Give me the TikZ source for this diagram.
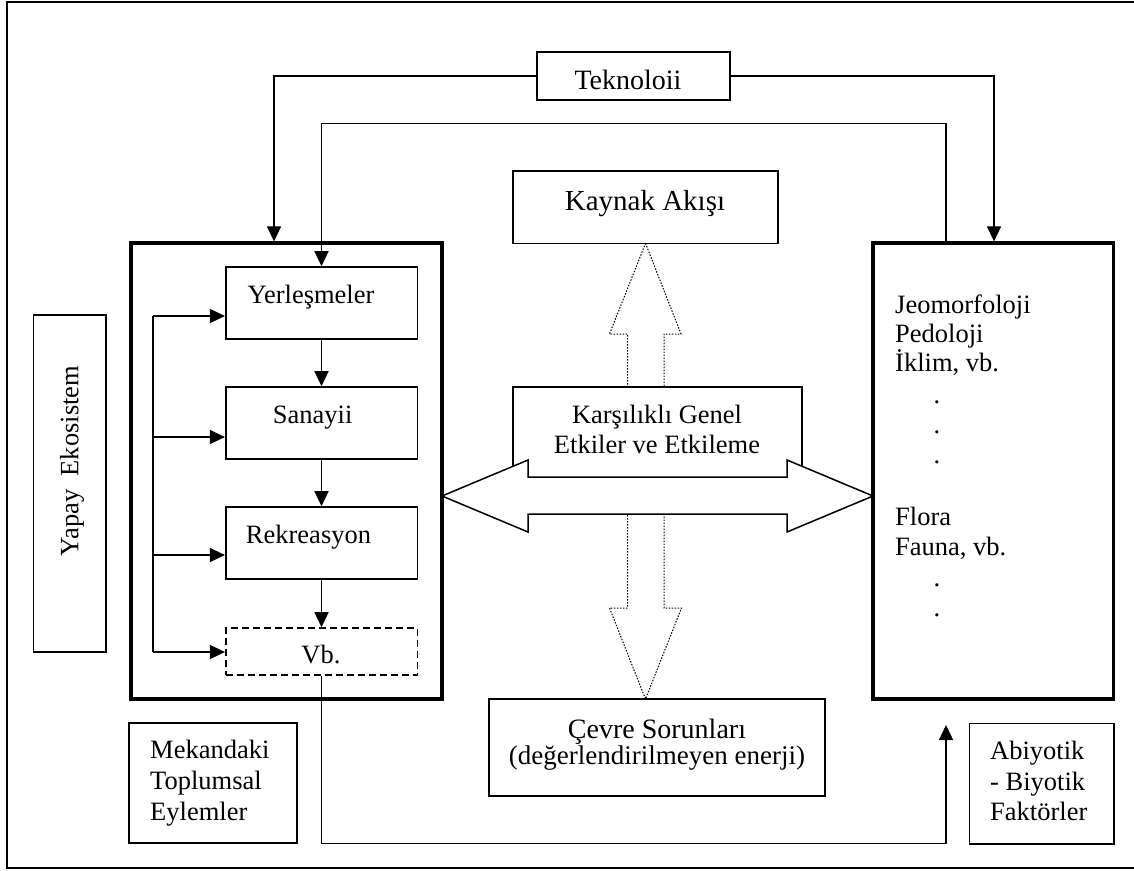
\documentclass[tikz,border=0pt]{standalone}
\usepackage{fontspec}
\setmainfont{Liberation Serif}
\usetikzlibrary{arrows.meta}
\newcommand\fsz[1]{\fontsize{#1}{#1}\selectfont}
\begin{document}
\begin{tikzpicture}[x=1pt,y=-1pt,
  box/.style={draw, line width=1.6pt, fill=white, inner sep=0pt},
  bigbox/.style={draw, line width=3.2pt, inner sep=0pt},
  txt/.style={inner sep=0pt, font=\fsz{26.5}},
  arr/.style={line width=1.5pt, -{Triangle[length=15pt,width=14pt]}},
  conn/.style={line width=1.5pt},
  dotline/.style={line width=1pt, dash pattern=on 1.5pt off 1.5pt},
]
\useasboundingbox (0,0) rectangle (1134,870);
\draw[line width=2pt] (7.3,2.3) rectangle (1145,868);

% big boxes
\node[bigbox, minimum width=311pt, minimum height=456pt] (lbig) at (286.5,471) {};
\node[bigbox, minimum width=240.3pt, minimum height=456pt] (rbig) at (993.15,471) {};

% side boxes
\node[box, minimum width=72.7pt, minimum height=336.7pt] (yapay) at (69.65,483.35) {};
\node[txt, rotate=90] (yapaytxt) at (72,461) {Yapay\ \ Ekosistem};

\node[box, minimum width=168pt, minimum height=120pt] (mek) at (213,783) {};
\node[txt, anchor=base west] (mek1) at (150,758) {Mekandaki};
\node[txt, anchor=base west] (mek2) at (150,789) {Toplumsal};
\node[txt, anchor=base west] (mek3) at (150,820) {Eylemler};

\node[box, minimum width=144.7pt, minimum height=120.7pt] (abi) at (1041.65,783.65) {};
\node[txt, anchor=base west] (abi1) at (990,759) {Abiyotik};
\node[txt, anchor=base west] (abi2) at (990,790) {- Biyotik};
\node[txt, anchor=base west] (abi3) at (990,820) {Faktörler};

% top boxes
\node[box, minimum width=193.3pt, minimum height=48.3pt] (tek) at (633.35,75.85) {};
\node[txt, anchor=base, font=\fsz{28}] (tektxt) at (628,89) {Teknoloii};

\node[box, minimum width=265pt, minimum height=72.3pt] (kay) at (645.2,207.15) {};
\node[txt, anchor=base, font=\fsz{29}] (kaytxt) at (645,210) {Kaynak Akışı};

% bottom box
\node[box, minimum width=336pt, minimum height=97pt] (cev) at (657,747.5) {};
\node[txt, anchor=base, font=\fsz{28}] (cev1) at (657,738) {Çevre Sorunları};
\node[txt, anchor=base, font=\fsz{27}] (cev2) at (657,764) {(değerlendirilmeyen enerji)};

% inner boxes
\node[box, minimum width=191.6pt, minimum height=72pt] (yer) at (321.5,303) {};
\node[txt, anchor=base] (yertxt) at (311,303.3) {Yerleşmeler};
\node[box, minimum width=191.6pt, minimum height=72pt] (san) at (321.5,423) {};
\node[txt, anchor=base] (santxt) at (312.7,423.3) {Sanayii};
\node[box, minimum width=191.6pt, minimum height=72pt] (rek) at (321.5,543) {};
\node[txt, anchor=base] (rektxt) at (308.5,543.3) {Rekreasyon};
\node[box, dash pattern=on 7pt off 4pt, minimum width=191.6pt, minimum height=47pt] (vb) at (321.5,651.5) {};
\node[txt, anchor=base] (vbtxt) at (321,663) {Vb.};

% right box contents
\node[txt, anchor=base west] (r1) at (895,313) {Jeomorfoloji};
\node[txt, anchor=base west] (r2) at (895,342) {Pedoloji};
\node[txt, anchor=base west] (r3) at (895,371) {İklim, vb.};
\node[txt] (d1) at (937,402) {.};
\node[txt] (d2) at (937,432) {.};
\node[txt] (d3) at (937,462) {.};
\node[txt, anchor=base west] (r4) at (895,525) {Flora};
\node[txt, anchor=base west] (r5) at (895,555) {Fauna, vb.};
\node[txt] (d4) at (937,585) {.};
\node[txt] (d5) at (937,615) {.};

% dotted vertical double arrow (behind)
\draw[dotline] (645.5,243.3) -- (681,334) -- (664,334) -- (664,608) -- (681.5,608)
  -- (645.5,699) -- (609.5,608) -- (627.5,608) -- (627.5,334) -- (609.5,334) -- cycle;

% central box
\node[box, minimum width=289pt, minimum height=108pt] (kar) at (657.5,441) {};
\node[txt, anchor=base] (kar1) at (657,423.3) {Karşılıklı Genel};
\node[txt, anchor=base] (kar2) at (657,453.3) {Etkiler ve Etkileme};

% hollow horizontal double arrow
\draw[line width=1.5pt, fill=white, line join=miter] (442,496) -- (528,460) -- (528,477) -- (787,477)
  -- (787,460) -- (873,496) -- (787,532) -- (787,514) -- (528,514) -- (528,532) -- cycle;

% connectors from Teknoloii
\coordinate (kL) at (274,0);
\coordinate (kR) at (994,0);
\coordinate (kM) at (946,0);
\coordinate (kT) at (0,123.3);
\draw[arr] (tek.west) -| (kL |- lbig.north);
\draw[arr] (tek.east) -| (kR |- rbig.north);
\draw[arr] (kM |- rbig.north) -- (kM |- kT) -| (yer.north);

% inner flow
\draw[arr] (yer.south) -- (san.north);
\draw[arr] (san.south) -- (rek.north);
\draw[arr] (rek.south) -- (vb.north);

% feedback
\coordinate (fb1) at (153,316);
\coordinate (fb2) at (153,437);
\coordinate (fb3) at (153,555);
\coordinate (fb4) at (153,652);
\draw[conn] (fb1) -- (fb4);
\draw[arr] (fb1) -- (fb1 -| yer.west);
\draw[arr] (fb2) -- (fb2 -| san.west);
\draw[arr] (fb3) -- (fb3 -| rek.west);
\draw[arr] (fb4) -- (fb4 -| vb.west);

% bottom loop
\coordinate (kB) at (0,843.3);
\coordinate (endB) at (946,725);
\draw[arr] (vb.south) -- (vb.south |- kB) -- (endB |- kB) -- (endB);
\end{tikzpicture}
\end{document}
